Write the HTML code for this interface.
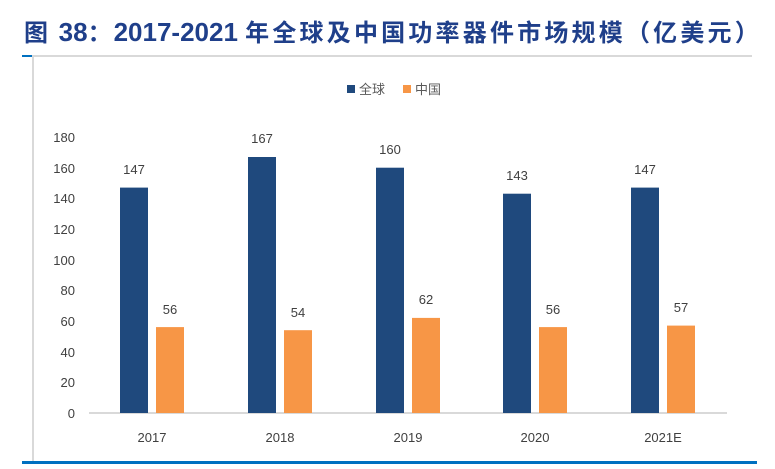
<html><body style="margin:0;width:775px;height:469px;background:#fff;position:relative;overflow:hidden;font-family:'Liberation Sans','Noto Sans CJK SC',sans-serif">
<div style="position:absolute;left:24px;top:13px;font-size:24px;font-weight:bold;color:#1f3f8a;white-space:nowrap"><span style="letter-spacing:2px">图 </span><span style="font-size:26px">38</span><span style="letter-spacing:2px">：</span><span style="font-size:26px">2017-2021 </span><span style="letter-spacing:3.2px">年全球及中国功率器件市场规模（亿美元）</span></div>
<div style="position:absolute;left:32px;top:55px;width:720px;height:2px;background:#d9d9d9"></div>
<div style="position:absolute;left:22px;top:55px;width:10px;height:2px;background:#0070c0"></div>
<div style="position:absolute;left:32px;top:55px;width:2px;height:406px;background:#d9d9d9"></div>
<div style="position:absolute;left:22px;top:461px;width:735px;height:3px;background:#0070c0"></div>
<svg width="775" height="469" style="position:absolute;left:0;top:0" font-family="Liberation Sans, sans-serif">
<rect x="347" y="85" width="8" height="8" fill="#1f497d"/><text x="359" y="94" font-size="13" fill="#595959" font-family="Noto Sans CJK SC, sans-serif">全球</text>
<rect x="403" y="85" width="8" height="8" fill="#f79646"/><text x="415" y="94" font-size="13" fill="#595959" font-family="Noto Sans CJK SC, sans-serif">中国</text>
<g font-size="13" fill="#404040" text-anchor="end">
<text x="75" y="418">0</text><text x="75" y="387">20</text><text x="75" y="357">40</text><text x="75" y="326">60</text><text x="75" y="295">80</text><text x="75" y="265">100</text><text x="75" y="234">120</text><text x="75" y="203">140</text><text x="75" y="173">160</text><text x="75" y="142">180</text>
</g>
<line x1="89" y1="413" x2="727" y2="413" stroke="#d9d9d9" stroke-width="2"/>
<g font-size="13" fill="#404040" text-anchor="middle">
<rect x="120" y="187.6" width="28" height="225.4" fill="#1f497d"/><rect x="156" y="327.1" width="28" height="85.9" fill="#f79646"/>
<text x="134" y="174">147</text><text x="170" y="314">56</text><text x="152" y="442">2017</text>
<rect x="248" y="157" width="28" height="256" fill="#1f497d"/><rect x="284" y="330.2" width="28" height="82.8" fill="#f79646"/>
<text x="262" y="143">167</text><text x="298" y="317">54</text><text x="280" y="442">2018</text>
<rect x="376" y="167.7" width="28" height="245.3" fill="#1f497d"/><rect x="412" y="317.9" width="28" height="95.1" fill="#f79646"/>
<text x="390" y="154">160</text><text x="426" y="304">62</text><text x="408" y="442">2019</text>
<rect x="503" y="193.7" width="28" height="219.3" fill="#1f497d"/><rect x="539" y="327.1" width="28" height="85.9" fill="#f79646"/>
<text x="517" y="180">143</text><text x="553" y="314">56</text><text x="535" y="442">2020</text>
<rect x="631" y="187.6" width="28" height="225.4" fill="#1f497d"/><rect x="667" y="325.6" width="28" height="87.4" fill="#f79646"/>
<text x="645" y="174">147</text><text x="681" y="312">57</text><text x="663" y="442">2021E</text>
</g>
</svg>
</body></html>
